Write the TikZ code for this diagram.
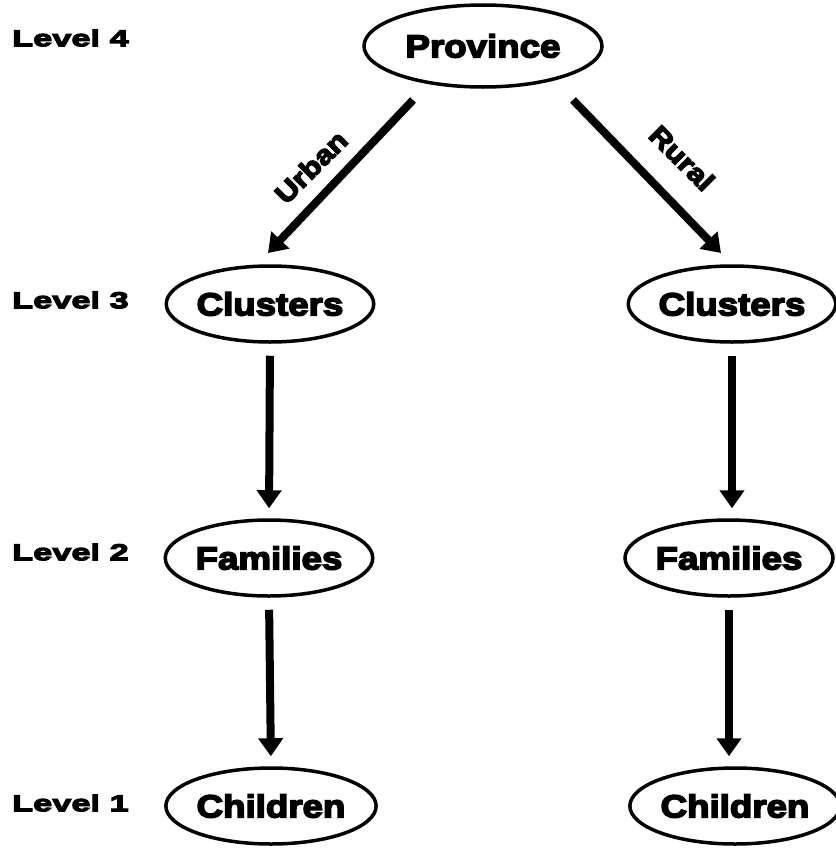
\documentclass[tikz,border=0pt]{standalone}
\usepackage{fontspec}
\usetikzlibrary{arrows.meta,shapes.geometric}
\newfontfamily\nfont[FakeStretch=1.15,FakeBold=5]{Liberation Sans Bold}
\newfontfamily\lfont[FakeStretch=1.5,FakeBold=5]{Liberation Sans Bold}
\begin{document}
\begin{tikzpicture}[x=1bp,y=-1bp,
  oval/.style={ellipse,draw,line width=3.5bp,inner sep=0pt,minimum height=76bp,
    font=\nfont\fontsize{32}{32}\selectfont},
  lvl/.style={anchor=west,inner sep=0pt,font=\lfont\fontsize{23}{23}\selectfont},
  edgelbl/.style={inner sep=0pt,font=\nfont\fontsize{27}{27}\selectfont},
  arr/.style={line width=8bp,-{Triangle[width=24bp,length=18bp]}}]
\useasboundingbox (0,0) rectangle (836,849);
% level labels
\node[lvl] (l4) at (12,38) {Level 4};
\node[lvl] (l3) at (12,300) {Level 3};
\node[lvl] (l2) at (12,552) {Level 2};
\node[lvl] (l1) at (12,803) {Level 1};
% nodes
\node[oval,minimum width=238bp,minimum height=82bp] (prov) at (483,46) {Province};
\node[oval,minimum width=192bp] (clL) at (270,304) {Clusters};
\node[oval,minimum width=200bp] (clR) at (732,304) {Clusters};
\node[oval,minimum width=192bp] (faL) at (269,558) {Families};
\node[oval,minimum width=208bp] (faR) at (729,558) {Families};
\node[oval,minimum width=174bp] (chL) at (271,806) {Children};
\node[oval,minimum width=192bp] (chR) at (735,806) {Children};
% diagonal connectors
\coordinate (uS) at (413,100);
\coordinate (uE) at (268,253);
\coordinate (rS) at (573,100);
\coordinate (rE) at (721,253);
\draw[arr] (uS) -- (uE);
\draw[arr] (rS) -- (rE);
\node[edgelbl,rotate=45] (urban) at (311,167) {Urban};
\node[edgelbl,rotate=-45] (rural) at (682,158) {Rural};
% vertical connectors
\draw[arr,shorten <=12bp,shorten >=10bp] (clL.south) -- (faL.north);
\draw[arr,shorten <=12bp,shorten >=10bp] (faL.south) -- (chL.north);
\draw[arr,shorten <=12bp,shorten >=10bp] (clR.south) -- (clR.south |- faR.north);
\draw[arr,shorten <=12bp,shorten >=10bp] (faR.south) -- (faR.south |- chR.north);
\end{tikzpicture}
\end{document}
